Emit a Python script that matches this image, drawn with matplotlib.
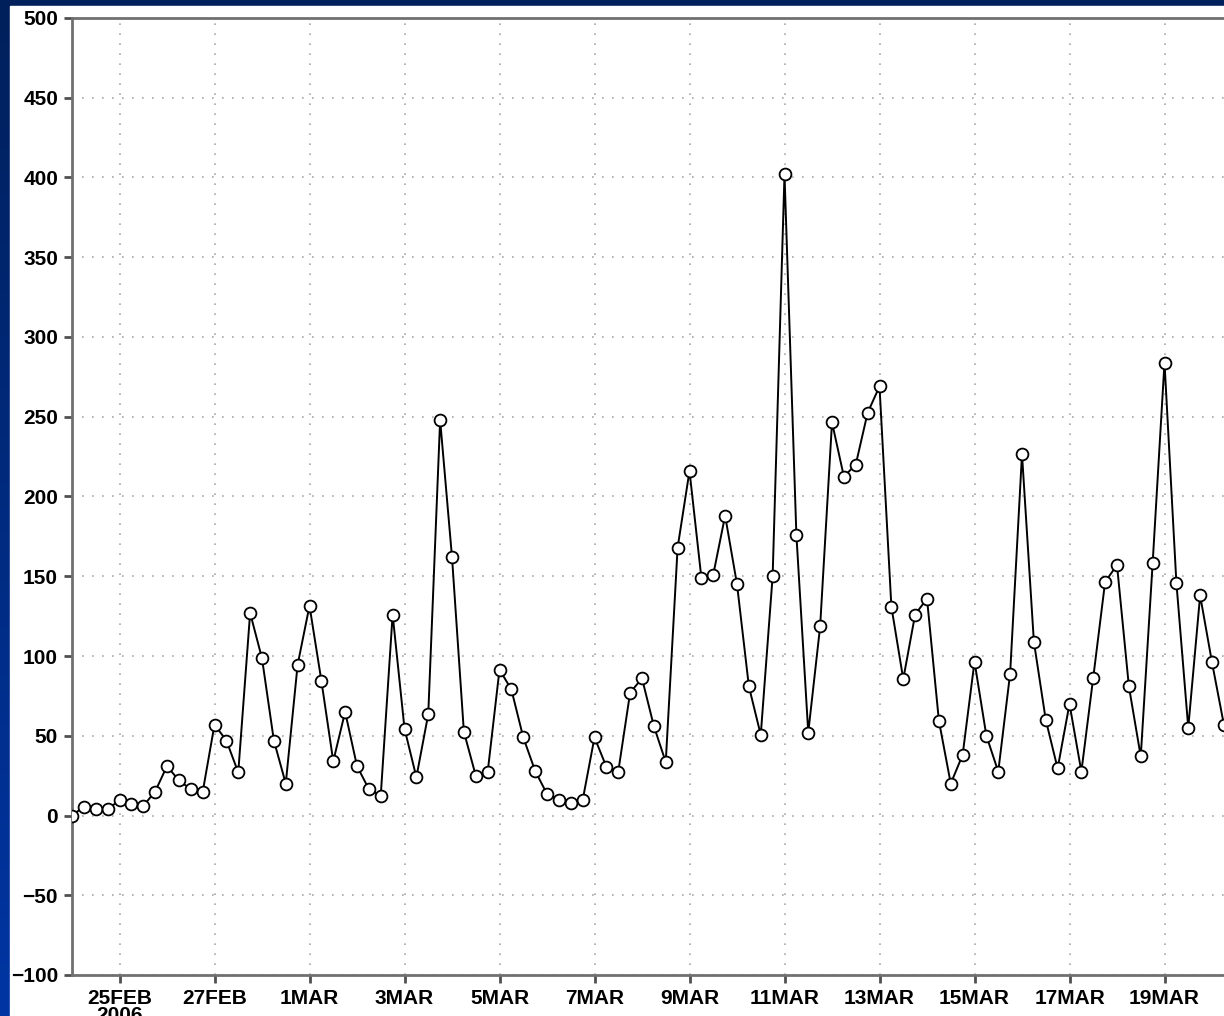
from datetime import datetime, timedelta

import numpy as np
import matplotlib
matplotlib.use("Agg")
import matplotlib.pyplot as plt
import matplotlib.dates as mdates
from matplotlib.colors import LinearSegmentedColormap

# 6-hourly values starting 24FEB2006 00Z
values = [0, 5.5, 4, 4, 9.5, 7, 6, 15,
          31, 22, 16.5, 14.5, 57, 47, 27, 127,
          98.5, 47, 20, 94.5, 131.5, 84.5, 34, 65,
          31, 16.5, 12.5, 126, 54.5, 24, 63.5, 248,
          162, 52.5, 25, 27, 91.5, 79, 49, 28,
          13.5, 10, 8, 9.5, 49, 30.5, 27.5, 77,
          86, 56, 33.5, 168, 216, 149, 151, 188,
          145, 81, 50.5, 150, 402, 176, 52, 118.5,
          246.5, 212.5, 220, 252.5, 269, 131, 85.5, 126,
          136, 59.5, 20, 38, 96.5, 50, 27.5, 89,
          226.5, 109, 60, 29.5, 70, 27.5, 86.5, 146.5,
          157, 81, 37, 158, 284, 146, 55, 138,
          96, 57]

start = datetime(2006, 2, 24)
times = [start + timedelta(hours=6 * i) for i in range(len(values))]

tick_dates = [datetime(2006, 2, 25), datetime(2006, 2, 27), datetime(2006, 3, 1),
              datetime(2006, 3, 3), datetime(2006, 3, 5), datetime(2006, 3, 7),
              datetime(2006, 3, 9), datetime(2006, 3, 11), datetime(2006, 3, 13),
              datetime(2006, 3, 15), datetime(2006, 3, 17), datetime(2006, 3, 19)]
tick_labels = ['25FEB\n2006', '27FEB', '1MAR', '3MAR', '5MAR', '7MAR',
               '9MAR', '11MAR', '13MAR', '15MAR', '17MAR', '19MAR']
y_ticks = list(range(-100, 501, 50))


def draw_background(fig):
    # slide style blue backdrop with a white card on top
    bg = fig.add_axes([0, 0, 1, 1], zorder=-10)
    cmap = LinearSegmentedColormap.from_list('slide', ['#0035a3', '#00205b'])
    grad = np.linspace(0, 1, 256).reshape(-1, 1)
    bg.imshow(grad, aspect='auto', cmap=cmap, origin='lower', extent=[0, 1, 0, 1])
    bg.add_patch(plt.Rectangle((10 / 1224, 0), 1, 1 - 6 / 1016,
                               color='white', transform=bg.transAxes))
    bg.set_xlim(0, 1)
    bg.set_ylim(0, 1)
    bg.axis('off')


def main():
    plt.rcParams['font.family'] = ['Liberation Sans', 'DejaVu Sans']
    fig = plt.figure(figsize=(12.24, 10.16), dpi=100)
    draw_background(fig)

    # 47.5 px per day, 24.5 days shown
    ax = fig.add_axes([72 / 1224, 41 / 1016, 24.5 * 47.5 / 1224, 957 / 1016])
    ax.set_facecolor('white')

    ax.plot(times, values, color='black', lw=1.4, marker='o', markersize=8.5,
            markerfacecolor='white', markeredgecolor='black', markeredgewidth=1.3,
            zorder=3)

    ax.set_ylim(-100, 500)
    ax.set_xlim(datetime(2006, 2, 24), datetime(2006, 3, 20, 12))
    ax.set_yticks(y_ticks)
    ax.set_yticklabels([str(v).replace('-', '\u2212') for v in y_ticks])
    ax.set_xticks([mdates.date2num(d) for d in tick_dates])
    ax.set_xticklabels(tick_labels, linespacing=0.85, va='top')

    ax.grid(True, color='#a8a8a8', linestyle=(0, (1, 5)), lw=1.2)
    for side in ['left', 'bottom', 'top']:
        ax.spines[side].set_color('#707070')
        ax.spines[side].set_linewidth(2)
    ax.spines['right'].set_visible(False)

    ax.tick_params(axis='both', direction='out', length=6, width=2,
                   color='#505050', labelsize=15, pad=4)
    for lab in ax.get_xticklabels() + ax.get_yticklabels():
        lab.set_fontweight('bold')

    fig.savefig('out.png', dpi=100)


if __name__ == "__main__":
    main()
